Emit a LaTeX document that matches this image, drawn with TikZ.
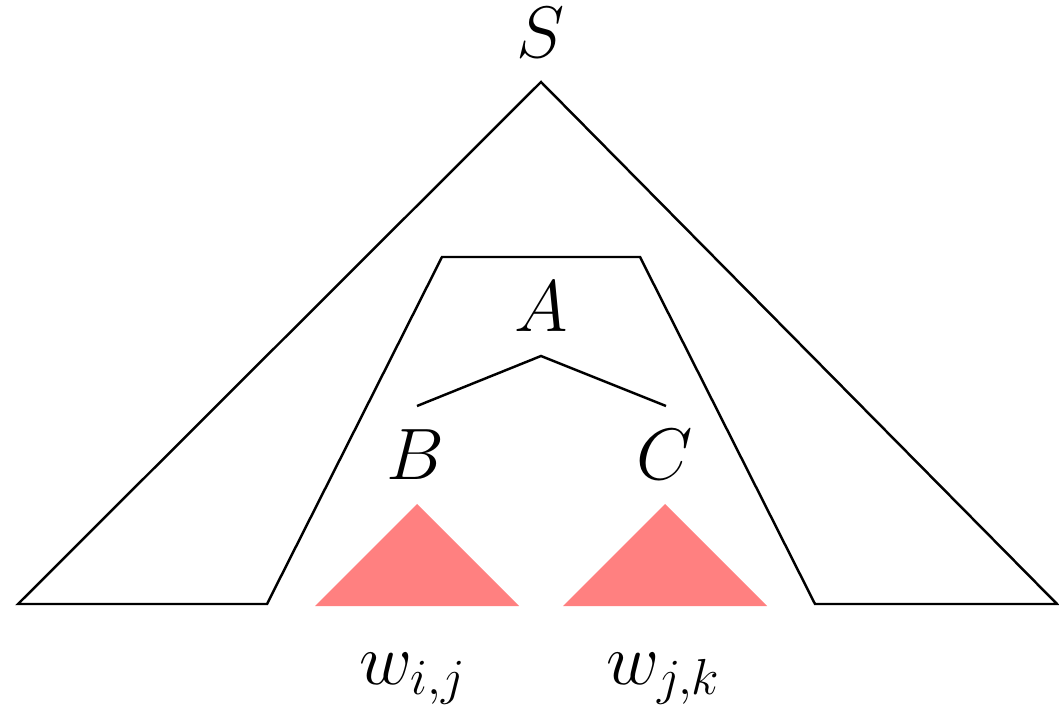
\documentclass[tikz,border=0pt]{standalone}
\usepackage{tikz}
\usepackage{amsmath,amssymb}
\usetikzlibrary{calc}

\begin{document}
\begin{tikzpicture}[lbl/.style={anchor=base,inner sep=0pt,font=\huge},
    edge/.style={line width=0.7pt},
    span/.style={fill=red!50,draw=none}]
    \useasboundingbox (0,0) rectangle (10.59,7.04);
    % outer tree with the hole for A
    \draw[edge,line join=miter] (0.18,1.00)--(5.41,6.22)--(10.57,1.00)--(8.15,1.00)
        --(6.40,4.47)--(4.42,4.47)--(2.67,1.00)--cycle;
    \node[lbl] (S) at (5.41,6.46) {$S$};
    \node[lbl] (A) at (5.41,3.72) {$A$};
    \node[lbl] (B) at (4.15,2.25) {$B$};
    \node[lbl] (C) at (6.65,2.25) {$C$};
    % rule A -> B C
    \coordinate (top) at (5.41,3.48);
    \coordinate (left) at (4.17,2.98);
    \coordinate (right) at (6.66,2.98);
    \draw[edge] (left)--(top)--(right);
    % the two spans
    \fill[span] (3.15,0.98)--(5.19,0.98)--(4.17,2.00)--cycle;
    \fill[span] (5.63,0.98)--(7.67,0.98)--(6.65,2.00)--cycle;
    \node[lbl] (wij) at (4.13,0.20) {$w_{i,j}$};
    \node[lbl] (wjk) at (6.64,0.20) {$w_{j,k}$};
\end{tikzpicture}
\end{document}
